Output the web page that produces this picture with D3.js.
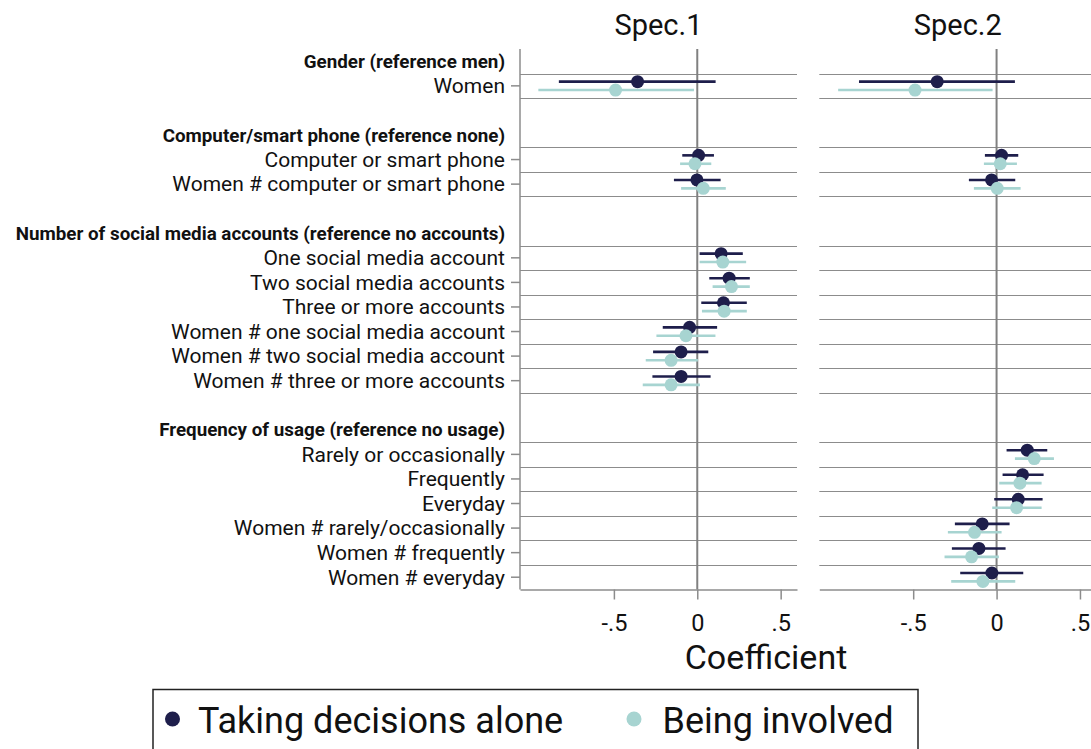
<!DOCTYPE html>
<html><head><meta charset="utf-8">
<script src="https://cdn.jsdelivr.net/npm/d3@7"></script>
<style>body{margin:0;background:#fff}svg{display:block}text{font-family:Roboto,"Noto Sans",sans-serif}</style>
</head><body><div id="chart"></div>
<script>
// ---- data ----
const groupHeaders = [
  "Gender (reference men)",
  "Computer/smart phone (reference none)",
  "Number of social media accounts (reference no accounts)",
  "Frequency of usage (reference no usage)"
];
const groupMembers = [
  ["Women"],
  ["Computer or smart phone", "Women # computer or smart phone"],
  ["One social media account", "Two social media accounts", "Three or more accounts",
   "Women # one social media account", "Women # two social media account", "Women # three or more accounts"],
  ["Rarely or occasionally", "Frequently", "Everyday",
   "Women # rarely/occasionally", "Women # frequently", "Women # everyday"]
];
const specTitles = ["Spec.1", "Spec.2"];
const seriesNames = ["Taking decisions alone", "Being involved"];
const xTicks = [-0.5, 0, 0.5];
const xTickLabels = ["-.5", "0", ".5"];
// [estimate, lower, upper] per coefficient, null = not in model
const spec1Alone = [
  [-0.358, -0.83, 0.11],
  [0.008, -0.09, 0.10], [-0.002, -0.14, 0.14],
  [0.143, 0.014, 0.273], [0.191, 0.072, 0.315], [0.157, 0.024, 0.297],
  [-0.046, -0.207, 0.119], [-0.097, -0.265, 0.066], [-0.097, -0.269, 0.08],
  null, null, null, null, null, null
];
const spec1Involved = [
  [-0.49, -0.953, -0.02],
  [-0.014, -0.103, 0.084], [0.036, -0.097, 0.171],
  [0.153, 0.014, 0.293], [0.205, 0.092, 0.315], [0.161, 0.028, 0.297],
  [-0.068, -0.245, 0.109], [-0.157, -0.309, 0.004], [-0.157, -0.327, 0.016],
  null, null, null, null, null, null
];
const spec2Alone = [
  [-0.356, -0.825, 0.11],
  [0.03, -0.07, 0.13], [-0.03, -0.166, 0.112],
  null, null, null, null, null, null,
  [0.184, 0.06, 0.304], [0.156, 0.036, 0.282], [0.13, -0.014, 0.276],
  [-0.086, -0.25, 0.078], [-0.106, -0.268, 0.054], [-0.028, -0.218, 0.16]
];
const spec2Involved = [
  [-0.489, -0.95, -0.024],
  [0.022, -0.076, 0.122], [0.004, -0.136, 0.144],
  null, null, null, null, null, null,
  [0.226, 0.11, 0.344], [0.14, 0.016, 0.27], [0.12, -0.026, 0.27],
  [-0.132, -0.292, 0.03], [-0.15, -0.312, 0.014], [-0.082, -0.272, 0.112]
];

// ---- layout ----
const W = 1091, H = 749;
const colors = ["#1e1e4b", "#a7d4d1"];
const gridColor = "#8c8c8c";
const svg = d3.select("#chart").append("svg").attr("width", W).attr("height", H);

// slot positions
const headerSlots = [], coefSlots = [], coefLabels = [];
let s = 0;
groupHeaders.forEach((h, gi) => {
  headerSlots.push(s); s++;
  groupMembers[gi].forEach(m => { coefSlots.push(s); coefLabels.push(m); s++; });
  if (gi < groupHeaders.length - 1) s++;
});
const y = d3.scaleLinear().domain([-0.5, s - 0.5]).range([49, 589.5]);

const panels = [
  {x0: 520, x1: 797, title: specTitles[0], series: [spec1Alone, spec1Involved], leftAxis: true},
  {x0: 819.3, x1: 1096.3, title: specTitles[1], series: [spec2Alone, spec2Involved], leftAxis: false}
];
const dom = [-1.063, 0.598];

panels.forEach(p => {
  const x = d3.scaleLinear().domain(dom).range([p.x0, p.x1]);
  const g = svg.append("g");
  // grid lines around each coefficient row
  const gl = new Set();
  coefSlots.forEach(c => { gl.add(c - 0.5); gl.add(c + 0.5); });
  g.selectAll("line.grid").data([...gl].filter(v => v < s - 0.5)).join("line")
    .attr("x1", p.x0).attr("x2", p.x1)
    .attr("y1", d => Math.round(y(d)) + 0.5).attr("y2", d => Math.round(y(d)) + 0.5)
    .attr("stroke", gridColor).attr("stroke-width", 1.2);
  // zero line
  g.append("line").attr("x1", x(0)).attr("x2", x(0)).attr("y1", y(-0.5)).attr("y2", y(s - 0.5))
    .attr("stroke", "#808080").attr("stroke-width", 2);
  // bottom axis
  const ax = d3.axisBottom(x).tickValues(xTicks).tickFormat((d, i) => xTickLabels[i]).tickSize(10).tickSizeOuter(0);
  const axg = g.append("g").attr("transform", `translate(0,${y(s - 0.5)})`).call(ax);
  axg.select(".domain").attr("stroke", "#8c8c8c").attr("stroke-width", 1.5);
  axg.selectAll(".tick line").attr("stroke", "#8c8c8c").attr("stroke-width", 1.5);
  axg.selectAll(".tick text").attr("font-size", 23.5).attr("fill", "#111").attr("dy", 0).attr("y", 41.5)
    .style("font-family", "Roboto");
  if (p.leftAxis) {
    const yl = g.append("g");
    yl.append("line").attr("x1", p.x0).attr("x2", p.x0).attr("y1", y(-0.5)).attr("y2", y(s - 0.5))
      .attr("stroke", "#8c8c8c").attr("stroke-width", 1.5);
    yl.selectAll("line.t").data(coefSlots).join("line")
      .attr("x1", p.x0 - 9).attr("x2", p.x0).attr("y1", d => y(d)).attr("y2", d => y(d))
      .attr("stroke", "#8c8c8c").attr("stroke-width", 1.5);
    yl.selectAll("text.lab").data(coefSlots).join("text")
      .attr("x", 505).attr("y", d => y(d)).attr("dy", "0.35em").attr("text-anchor", "end")
      .attr("font-size", 21).attr("fill", "#111").text((d, i) => coefLabels[i]);
    yl.selectAll("text.hdr").data(headerSlots).join("text")
      .attr("x", 505).attr("y", d => y(d)).attr("dy", "0.35em").attr("text-anchor", "end")
      .attr("font-size", 18.8).attr("font-weight", "bold").attr("fill", "#111").text((d, i) => groupHeaders[i]);
  }
  // title
  g.append("text").attr("x", (p.x0 + p.x1) / 2).attr("y", 35).attr("text-anchor", "middle")
    .attr("font-size", 29).attr("fill", "#111").text(p.title);
  // series
  const offsets = [-4.2, 4.2];
  p.series.forEach((ser, si) => {
    const pts = ser.map((v, i) => v ? {v, slot: coefSlots[i]} : null).filter(d => d);
    const sg = g.append("g");
    sg.selectAll("line").data(pts).join("line")
      .attr("x1", d => x(d.v[1])).attr("x2", d => x(d.v[2]))
      .attr("y1", d => y(d.slot) + offsets[si]).attr("y2", d => y(d.slot) + offsets[si])
      .attr("stroke", colors[si]).attr("stroke-width", 2.6);
    sg.selectAll("circle").data(pts).join("circle")
      .attr("cx", d => x(d.v[0])).attr("cy", d => y(d.slot) + offsets[si]).attr("r", 6.5)
      .attr("fill", colors[si]);
  });
});

// x title
svg.append("text").attr("x", 766).attr("y", 669).attr("text-anchor", "middle")
  .attr("font-size", 34).attr("fill", "#111").text("Coefficient");

// legend
const lg = svg.append("g");
lg.append("rect").attr("x", 153).attr("y", 689.5).attr("width", 765).attr("height", 80)
  .attr("fill", "none").attr("stroke", "#222").attr("stroke-width", 1.5);
const legX = [172.5, 634];
seriesNames.forEach((n, i) => {
  lg.append("circle").attr("cx", legX[i]).attr("cy", 719).attr("r", 7.5).attr("fill", colors[i]);
  lg.append("text").attr("x", legX[i] + (i === 0 ? 25.5 : 28.5)).attr("y", 733).attr("font-size", 36)
    .attr("fill", "#111").text(n);
});
</script></body></html>
